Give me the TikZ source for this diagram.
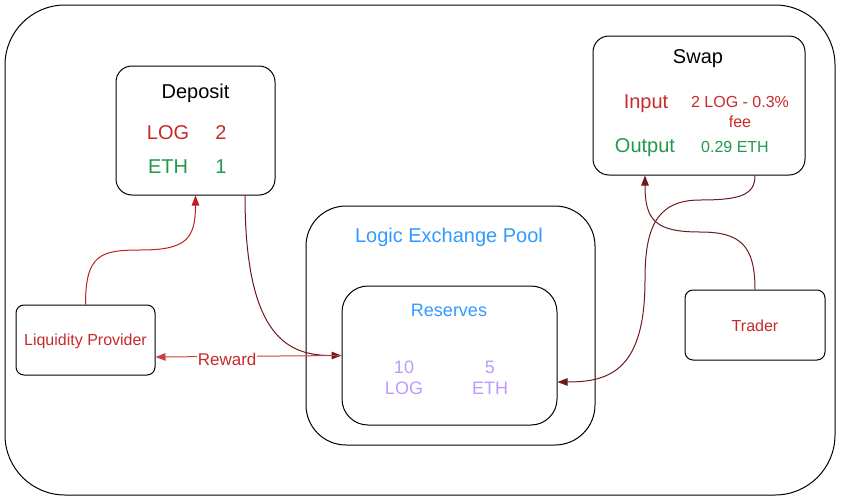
\documentclass[tikz,border=0pt]{standalone}
\usepackage{fontspec}
\setmainfont{Liberation Sans}
\usetikzlibrary{arrows.meta}
\definecolor{tred}{HTML}{C82A2A}
\definecolor{tgreen}{HTML}{1F9A4A}
\definecolor{tblue}{HTML}{3399FF}
\definecolor{tpurple}{HTML}{BB99FF}
\definecolor{maroon}{HTML}{6E1A1A}
\definecolor{ared}{HTML}{C01E1E}
\tikzset{
  box/.style={draw=black, line width=1pt, rounded corners=#1, fill=none, inner sep=0pt},
  t20/.style={font=\fontsize{20}{24}\selectfont, inner sep=0pt},
  t18/.style={font=\fontsize{18}{21}\selectfont, inner sep=0pt, align=center},
  t16/.style={font=\fontsize{16}{20}\selectfont, inner sep=0pt, align=center},
  conn/.style={line width=1pt, -{Triangle[length=10pt,width=7.5pt]}},
}
\begin{document}
\begin{tikzpicture}[x=1pt,y=-1pt]
\useasboundingbox (0,0) rectangle (841,501);
% outer frame
\node[box=60, minimum width=830pt, minimum height=490pt] (frame) at (420,250) {};
% boxes
\node[box=16, minimum width=159pt, minimum height=129pt] (dep) at (195.5,130.5) {};
\node[box=16, minimum width=212pt, minimum height=139pt] (swap) at (699,105.5) {};
\node[box=40, minimum width=289pt, minimum height=239pt] (pool) at (450.5,325.5) {};
\node[box=26, minimum width=215pt, minimum height=139pt] (res) at (449.5,355.5) {};
\node[box=8, minimum width=139pt, minimum height=70pt] (lp) at (85.5,340) {};
\node[box=8, minimum width=140pt, minimum height=70pt] (trader) at (755,325) {};
% texts
\node[t20] (deptitle) at (195.5,93) {Deposit};
\node[t20, text=tred] (deplog) at (168,132.5) {LOG};
\node[t20, text=tred] (deplogv) at (221,132.5) {2};
\node[t20, text=tgreen] (depeth) at (168,166.5) {ETH};
\node[t20, text=tgreen] (depethv) at (221,166.5) {1};
\node[t20] (swaptitle) at (698,59) {Swap};
\node[t20, text=tred] (swapin) at (646,104) {Input};
\node[t16, text=tred] (swapinv) at (740,112) {2 LOG - 0.3\%\\fee};
\node[t20, text=tgreen] (swapout) at (645,148) {Output};
\node[t16, text=tgreen] (swapoutv) at (735,147) {0.29 ETH};
\node[t20, text=tblue] (pooltitle) at (449,237.5) {Logic Exchange Pool};
\node[t18, text=tblue] (restitle) at (449,310.5) {Reserves};
\node[t18, text=tpurple] (reslog) at (404,378) {10\\LOG};
\node[t18, text=tpurple] (reseth) at (490,378) {5\\ETH};
\node[t16, text=tred] (lptext) at (85.5,341) {Liquidity Provider};
\node[t16, text=tred] (trtext) at (755,326) {Trader};
% connectors
\draw[conn, draw=ared] (lp.north) .. controls (85.5,255) and (100,250) .. (140,250) .. controls (185,250) and (195.5,240) .. (dep.south);
\draw[conn, draw=maroon] ([xshift=49.5pt]dep.south) .. controls (245,340) and (290,355.5) .. (res.west);
\draw[conn, draw=ared!85] (res.west) -- node[pos=0.615, yshift=-3pt, fill=white, inner sep=1pt, text=tred, font=\fontsize{17}{20}\selectfont] (rewardlbl) {Reward} ([yshift=-17pt]lp.east);
\draw[conn, draw=maroon] (trader.north) .. controls (755,245) and (740,232) .. (700,232) .. controls (655,232) and (645,220) .. ([xshift=-54pt]swap.south);
\draw[conn, draw=maroon] ([xshift=56pt]swap.south) .. controls (755,195) and (740,200) .. (700,200) .. controls (655,200) and (645,230) .. (645,280) .. controls (645,370) and (610,382) .. ([yshift=-26.5pt]res.east);
\end{tikzpicture}
\end{document}
